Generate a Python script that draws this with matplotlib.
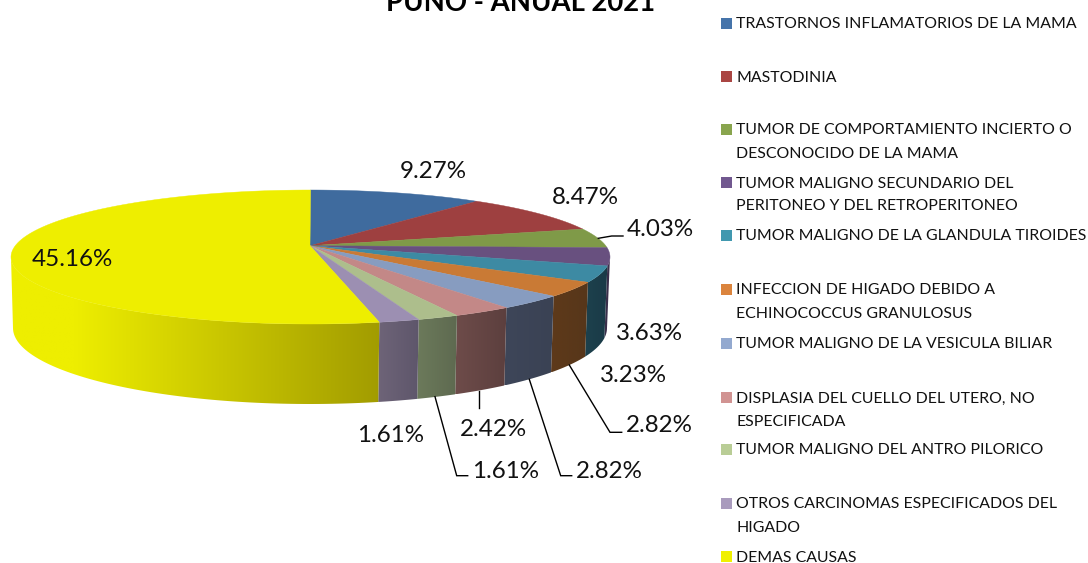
import numpy as np
import matplotlib
matplotlib.use("Agg")
import matplotlib.pyplot as plt
from matplotlib.colors import to_rgb
from matplotlib.patches import Polygon

plt.rcParams['font.family'] = ['Lato', 'DejaVu Sans']

title = "PUNO - ANUAL 2021"
categories = [
    "TRASTORNOS INFLAMATORIOS DE LA MAMA",
    "MASTODINIA",
    "TUMOR DE COMPORTAMIENTO INCIERTO O\nDESCONOCIDO DE LA MAMA",
    "TUMOR MALIGNO SECUNDARIO DEL\nPERITONEO Y DEL RETROPERITONEO",
    "TUMOR MALIGNO DE LA GLANDULA TIROIDES",
    "INFECCION DE HIGADO DEBIDO A\nECHINOCOCCUS GRANULOSUS",
    "TUMOR MALIGNO DE LA VESICULA BILIAR",
    "DISPLASIA DEL CUELLO DEL UTERO, NO\nESPECIFICADA",
    "TUMOR MALIGNO DEL ANTRO PILORICO",
    "OTROS CARCINOMAS ESPECIFICADOS DEL\nHIGADO",
    "DEMAS CAUSAS",
]
# Percentages as printed on the chart
printed_pct = [9.27, 8.47, 4.03, 3.63, 3.23, 2.82, 2.82, 2.42, 1.61, 1.61, 45.16]
# Slice shares as actually drawn (percent of the circle)
drawn_share = [9.36, 8.80, 4.60, 4.36, 4.03, 3.78, 3.72, 3.22, 2.25, 2.19, 53.69]

top_colors = ['#3f6b9e', '#9e4040', '#7f9a48', '#68507f', '#3d8aa3', '#c97a35',
              '#879cc0', '#c38887', '#adbe8c', '#9c8fb2', '#eeee00']
swatch_colors = ['#4674aa', '#aa4643', '#89a54e', '#71588f', '#4198af', '#db843d',
                 '#93a9cf', '#d19392', '#b9cd96', '#a99bbd', '#f0f000']
# wall colours: (colour at the left end, colour at the right end)
wall_colors = [None, None, None,
               ('#3a2f4a', '#3a2f4a'), ('#1d414d', '#1a3a47'), ('#5e3a1a', '#57361a'),
               ('#3e4659', '#3a4254'), ('#6e4c4a', '#5c3f3e'), ('#6c7a5b', '#5e6a50'),
               ('#6e6478', '#5e566b'), ('#eeee00', '#a29c00')]

fig = plt.figure(figsize=(10.88, 5.63), dpi=100)
ax = fig.add_axes([0, 0, 1, 1])
ax.axis('off')

# geometry of the tilted disc, in figure pixels
tcx, tcy, trx, try_ = 310.5, 257.0, 299.5, 67.0
bcx, bcy, brx, bry = 310.0, 328.0, 297.0, 76.0
apex = (310.0, 245.7)

def rim(t, cx, cy, rx, ry):
    t = np.radians(t)
    return cx + rx * np.sin(t), cy - ry * np.cos(t)

edges = np.concatenate([[0], np.cumsum(drawn_share)]) * 360 / np.sum(drawn_share)

# side walls: a horizontal gradient clipped to each wall shape
for i, wc in enumerate(wall_colors):
    if wc is None:
        continue
    a, b = max(edges[i], 90), min(edges[i + 1], 270)
    ts = np.linspace(a, b, 80)
    xt, yt = rim(ts, tcx, tcy, trx, try_)
    xb, yb = rim(ts, bcx, bcy, brx, bry)
    xy = np.column_stack([np.r_[xt, xb[::-1]], np.r_[yt, yb[::-1]]])
    x0, x1, y0, y1 = xy[:, 0].min(), xy[:, 0].max(), xy[:, 1].min(), xy[:, 1].max()
    f = np.linspace(0, 1, 256)
    if i == len(wall_colors) - 1:   # yellow stays bright at the far left
        f = np.clip((f - 0.17) / 0.83, 0, 1)
    left, right = np.array(to_rgb(wc[0])), np.array(to_rgb(wc[1]))
    grad = (left[None, :] + (right - left)[None, :] * f[:, None])[None, :, :]
    im = ax.imshow(grad, extent=(x0, x1, y1, y0), aspect='auto', zorder=2,
                   interpolation='bilinear')
    im.set_clip_path(Polygon(xy, closed=True, transform=ax.transData))

ax.set_xlim(0, 1088)
ax.set_ylim(563, 0)

# top face
for i, c in enumerate(top_colors):
    ts = np.linspace(edges[i], edges[i + 1], 120)
    xs, ys = rim(ts, tcx, tcy, trx, try_)
    ax.fill(np.r_[apex[0], xs], np.r_[apex[1], ys], color=c, lw=0.3, zorder=3)

# data labels
label_xy = [(433.5, 171), (585, 197), (660.5, 230), (649.5, 334), (633.5, 376), (659.5, 426),
            (609.5, 472), (493, 429), (505.5, 472), (391, 435), (72, 260)]
for (x, y), v in zip(label_xy, printed_pct):
    ax.text(x, y, f"{v:.2f}%", ha='center', va='center', fontsize=17.4,
            color='#111111', zorder=5)

# leader lines
leaders = [
    [(598.3, 238.3), (611.7, 236), (623, 236)],
    [(569.3, 365), (610, 432.3), (621.7, 432.3)],
    [(529.3, 379.3), (560.7, 475.7), (571.7, 475.7)],
    [(435, 396.7), (456.7, 475.7), (467.7, 475.7)],
    [(478.7, 390.7), (478.7, 408.3)],
]
for pts in leaders:
    px, py = zip(*pts)
    ax.plot(px, py, color='black', lw=1.0, zorder=4, solid_joinstyle='miter')

# title (runs off the top of the canvas, as in the source)
ax.text(520.5, 3, title, ha='center', va='center', fontsize=19.8,
        fontweight='bold', color='black', clip_on=False)

# legend
legend_y = [23, 76, 129, 182, 235, 289, 343, 397, 449, 503, 556]
line_gap = 23
for y, name, c in zip(legend_y, categories, swatch_colors):
    ax.fill([721, 732, 732, 721], [y - 5.5, y - 5.5, y + 5.5, y + 5.5], color=c, lw=0)
    for k, line in enumerate(name.split("\n")):
        ax.text(736, y + 1.5 + k * line_gap, line, ha='left', va='center', fontsize=11.4,
                color='#111111')

fig.savefig("out.png", dpi=100)
